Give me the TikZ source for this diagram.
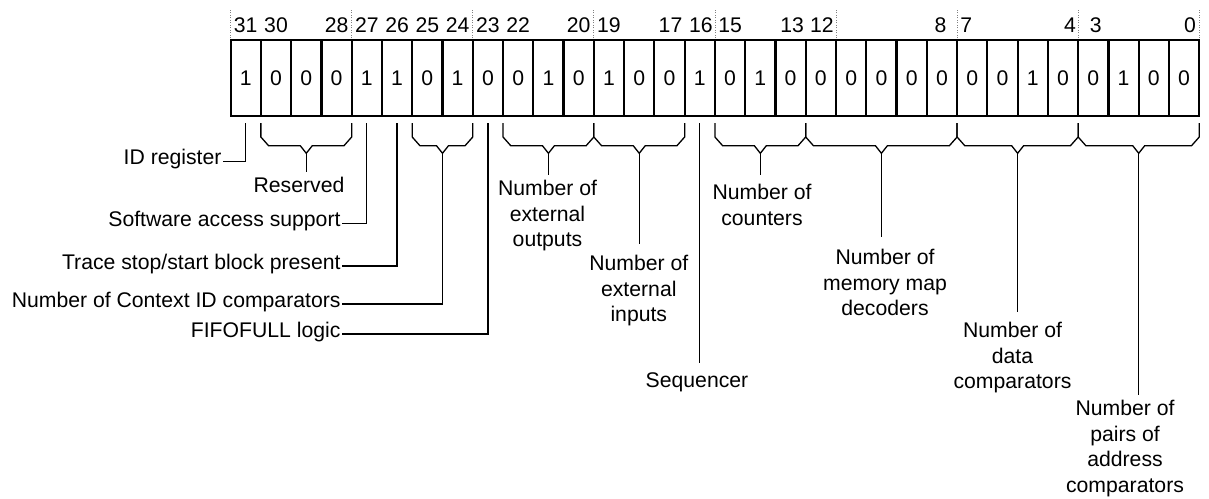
\documentclass[tikz,border=0pt]{standalone}
\usepackage{fontspec}
\setmainfont{Liberation Sans}
\usetikzlibrary{calc}
\newcommand\figfont{\fontsize{21.2}{25.5}\selectfont}
\newcommand\regbrace[3]{%
  \draw[conn] let \p1=(c#1.south west), \p2=(c#2.south east), \n1={(\x1+\x2)/2} in
    (\x1,\y1-7pt) -- (\x1,\y1-21pt) -- (\x1+7.7pt,\y1-29.7pt) -- (\n1-6pt,\y1-29.7pt)
    -- (\n1,\y1-37.3pt) coordinate (#3) -- (\n1+6pt,\y1-29.7pt)
    -- (\x2-7.7pt,\y1-29.7pt) -- (\x2,\y1-21pt) -- (\x2,\y1-7pt);}
\tikzset{
  cell/.style={draw, line width=2.2pt, minimum width=30.27pt, minimum height=76pt,
    inner sep=0pt, outer sep=0pt, font=\figfont},
  bitnum/.style={anchor=base, inner sep=0pt, font=\figfont},
  conn/.style={line width=1.3pt},
  lbl/.style={align=center, inner sep=0pt, anchor=north, font=\figfont},
  llbl/.style={anchor=base east, inner sep=0pt, font=\figfont},
  sepline/.style={gray, line width=0.7pt, dash pattern=on 1pt off 1.5pt},
}
\begin{document}
\begin{tikzpicture}[x=1pt,y=-1pt]
\useasboundingbox (0,0) rectangle (1209,498);
% register cells
\foreach \b/\v in {31/1,30/0,29/0,28/0,27/1,26/1,25/0,24/1,23/0,22/0,21/1,20/0,19/1,18/0,17/0,16/1,
                   15/0,14/1,13/0,12/0,11/0,10/0,9/0,8/0,7/0,6/0,5/1,4/0,3/0,2/1,1/0,0/0}
  \node[cell] (c\b) at ({230.6+(31.5-\b)*30.27},78) {\v};
% bit numbers
\foreach \b/\dx in {31/0,30/0,28/0,27/0,26/0,25/0,24/0,23/0,22/0,20/0,19/0,17/1,16/1,15/0,13/1.5,
                    12/1,8/-1.5,7/-6,4/7,3/2.5,0/6}
  \node[bitnum] (n\b) at ($(c\b.north)+(\dx,-7.7)$) {\b};
% dotted separators
\foreach \b in {31,27,23,19,15,11,7,3}
  \draw[sepline] ([yshift=2pt]c\b.north west) -- ([yshift=30pt]c\b.north west);
\draw[sepline] ([yshift=2pt]c0.north east) -- ([yshift=30pt]c0.north east);
% braces
\regbrace{30}{28}{tRes}
\regbrace{25}{24}{tCid}
\regbrace{22}{20}{tOut}
\regbrace{19}{17}{tIn}
\regbrace{15}{13}{tCnt}
\regbrace{12}{8}{tMem}
\regbrace{7}{4}{tData}
\regbrace{3}{0}{tAddr}
% labels below
\node[lbl] (lRes) at (299,177.2) {Reserved};
\node[lbl] (lOut) at (547.5,180.2) {Number of\\external\\outputs};
\node[lbl] (lIn) at (638.8,255.2) {Number of\\external\\inputs};
\node[lbl] (lSeq) at (697,372.2) {Sequencer};
\node[lbl] (lCnt) at (762,184.2) {Number of\\counters};
\node[lbl] (lMem) at (885,249.2) {Number of\\memory map\\decoders};
\node[lbl] (lData) at (1012.5,322.2) {Number of\\data\\comparators};
\node[lbl] (lAddr) at (1125,400.2) {Number of\\pairs of\\address\\comparators};
\draw[conn, shorten >=5.5pt] (tRes) -- (tRes |- lRes.north);
\draw[conn, shorten >=5.2pt] (tOut) -- (tOut |- lOut.north);
\draw[conn, shorten >=11.2pt] (tIn) -- (tIn |- lIn.north);
\draw[conn, shorten >=9.2pt] ([yshift=-7pt]c16.south) -- (c16.south |- lSeq.north);
\draw[conn, shorten >=9.2pt] (tCnt) -- (tCnt |- lCnt.north);
\draw[conn, shorten >=12.5pt] (tMem) -- (tMem |- lMem.north);
\draw[conn, shorten >=10.5pt] (tData) -- (tData |- lData.north);
\draw[conn, shorten >=5.2pt] (tAddr) -- (tAddr |- lAddr.north);
% labels on the left
\node[llbl] (lId) at (221.7,164.5) {ID register};
\node[llbl] (lSw) at (340.7,226.3) {Software access support};
\node[llbl] (lTr) at (340.7,269) {Trace stop/start block present};
\node[llbl] (lCidl) at (340.7,307) {Number of Context ID comparators};
\node[llbl] (lFifo) at (340.7,337) {FIFOFULL logic};
\draw[conn] ([yshift=-7pt]c31.south) |- ([xshift=1.5pt,yshift=3pt]lId.base east);
\draw[conn] ([yshift=-7pt]c27.south) |- ([xshift=1.5pt,yshift=3pt]lSw.base east);
\draw[conn] ([yshift=-7pt]c26.south) |- ([xshift=1.5pt,yshift=3pt]lTr.base east);
\draw[conn] (tCid) |- ([xshift=1.5pt,yshift=3pt]lCidl.base east);
\draw[conn] ([yshift=-7pt]c23.south) |- ([xshift=1.5pt,yshift=3pt]lFifo.base east);
\end{tikzpicture}
\end{document}
